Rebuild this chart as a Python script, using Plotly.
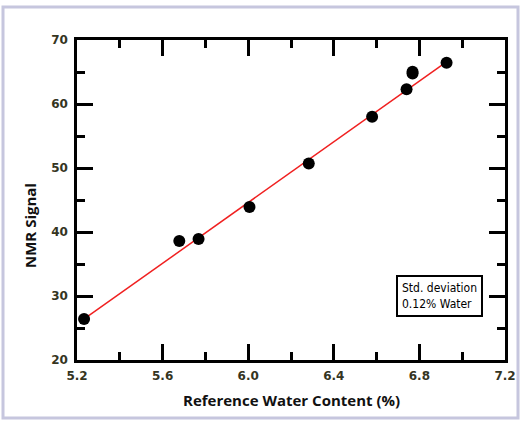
import plotly.graph_objects as go

# punkty pomiarowe
water_ref = [5.233, 5.678, 5.768, 6.006, 6.283, 6.579, 6.74, 6.768, 6.768, 6.927]
nmr_signal = [26.4, 38.6, 38.9, 43.9, 50.7, 58.0, 62.3, 65.05, 64.75, 66.45]

# linia kalibracji (koncowki)
fit_x = [5.25, 6.91]
fit_y = [26.8, 66.2]

x_ticks = [5.2, 5.6, 6.0, 6.4, 6.8, 7.2]
y_ticks = [20, 30, 40, 50, 60, 70]

W, H = 529, 426
L, R, T, B = 77, 24, 40, 66


def px_x(px):
    return (px - L) / (W - L - R)


def px_y(py):
    return (H - B - py) / (H - T - B)


tick_font = dict(family="Verdana, DejaVu Sans, sans-serif", size=12,
                 color="#35351f", weight="bold")
title_font = dict(family="Open Sans, sans-serif", size=15, color="#111111",
                  weight="bold")

fig = go.Figure()
fig.add_trace(go.Scatter(x=fit_x, y=fit_y, mode="lines",
                         line=dict(color="#f02020", width=1.5),
                         showlegend=False, hoverinfo="skip"))
fig.add_trace(go.Scatter(x=water_ref, y=nmr_signal, mode="markers",
                         marker=dict(color="black", size=12),
                         showlegend=False))

axis_common = dict(
    showgrid=False, zeroline=False, showline=True, linecolor="black",
    linewidth=2.5, mirror="ticks", ticks="inside", ticklen=16, tickwidth=3,
    tickcolor="black", tickfont=tick_font,
)

fig.update_layout(
    width=W, height=H,
    margin=dict(l=L, r=R, t=T, b=B),
    paper_bgcolor="white", plot_bgcolor="white",
    xaxis=dict(range=[5.2, 7.2], tickvals=x_ticks,
               ticktext=[f"{v:.1f}" for v in x_ticks],
               minor=dict(ticks="inside", ticklen=8, tickwidth=3,
                          tickcolor="black", dtick=0.2, tick0=5.2),
               ticklabelstandoff=3,
               **axis_common),
    yaxis=dict(range=[20, 70], tickvals=y_ticks,
               minor=dict(ticks="inside", ticklen=8, tickwidth=3,
                          tickcolor="black", dtick=5, tick0=20),
               ticklabelstandoff=4,
               **axis_common),
    annotations=[
        dict(text="Reference Water Content (%)", xref="paper", yref="paper",
             x=px_x(291), y=px_y(400), xanchor="center", yanchor="middle",
             showarrow=False, font=title_font),
        dict(text="NMR Signal", xref="paper", yref="paper",
             x=px_x(30), y=px_y(226), xanchor="center", yanchor="middle",
             textangle=-90, showarrow=False, font=title_font),
        dict(text="Std. deviation<br>0.12% Water", xref="paper", yref="paper",
             x=px_x(439), y=px_y(295.5), xanchor="center", yanchor="middle",
             showarrow=False, align="left",
             font=dict(family="DejaVu Sans Condensed, Liberation Sans Narrow, sans-serif",
                       size=12, color="black"),
             bordercolor="black", borderwidth=2, borderpad=4,
             bgcolor="white"),
    ],
    shapes=[
        dict(type="rect", xref="paper", yref="paper",
             x0=px_x(3), x1=px_x(518), y0=px_y(418), y1=px_y(7),
             line=dict(color="#c6c6de", width=3), layer="below"),
    ],
)

# bez domyslnego marginesu strony i bez paska narzedzi
fig.write_html("out.html", config={"displayModeBar": False},
               post_script="document.body.style.margin='0';")
